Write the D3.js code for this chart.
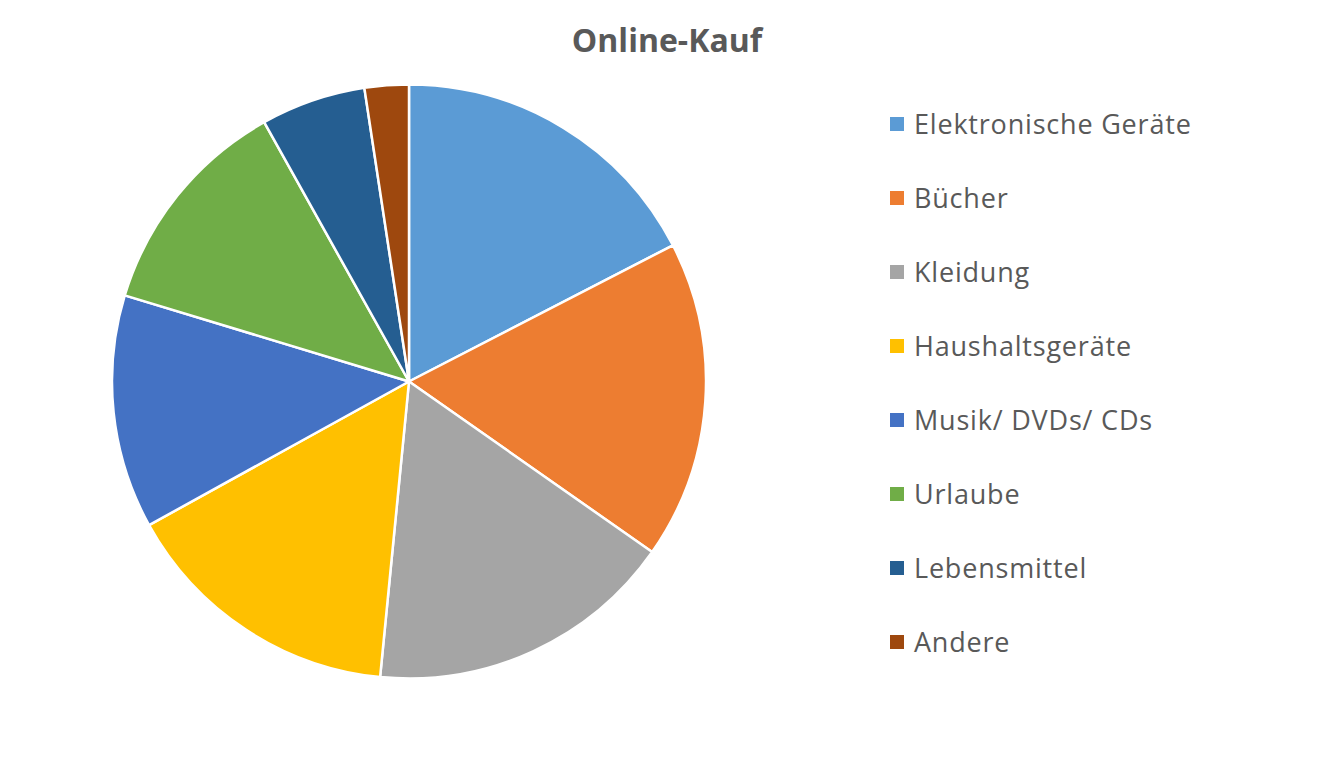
<!DOCTYPE html>
<html><head><meta charset="utf-8">
<script src="https://cdn.jsdelivr.net/npm/d3@7"></script>
<style>body{margin:0;background:#fff}</style>
</head><body>
<svg id="c" width="1334" height="777"></svg>
<script>
const categories = ["Elektronische Geräte","Bücher","Kleidung","Haushaltsgeräte","Musik/ DVDs/ CDs","Urlaube","Lebensmittel","Andere"];
const values = [17.4,17.3,16.8,15.4,12.7,12.2,5.7,2.4];
const colors = ["#5B9BD5","#ED7D31","#A5A5A5","#FFC000","#4472C4","#70AD47","#255E91","#9E480E"];
const title = "Online-Kauf";

const svg = d3.select("#c");
const font = "'Open Sans', 'Noto Sans', sans-serif";
svg.append("text").attr("x",667).attr("y",52).attr("text-anchor","middle")
  .attr("font-family",font).attr("font-weight","bold").attr("font-size",32)
  .attr("fill","#595959").text(title);

const cx=409, cy=381.5, r=297;
const pie = d3.pie().sort(null).value(d=>d)(values);
const arc = d3.arc().innerRadius(0).outerRadius(r);
const g = svg.append("g").attr("transform",`translate(${cx},${cy})`);
g.selectAll("path").data(pie).join("path").attr("d",arc)
  .attr("fill",(d,i)=>colors[i]).attr("stroke","#fff").attr("stroke-width",2.5).attr("stroke-linejoin","round");

const y = d3.scalePoint().domain(categories).range([124,642]);
const lg = svg.append("g");
const item = lg.selectAll("g").data(categories).join("g").attr("transform",d=>`translate(890,${y(d)})`);
item.append("rect").attr("x",0).attr("y",-7).attr("width",14).attr("height",14).attr("fill",(d,i)=>colors[i]);
item.append("text").attr("x",24).attr("y",0).attr("dy","0.36em").attr("font-family",font)
  .attr("font-size",27).attr("letter-spacing",0.8).attr("fill","#595959").text(d=>d);
</script>
</body></html>
